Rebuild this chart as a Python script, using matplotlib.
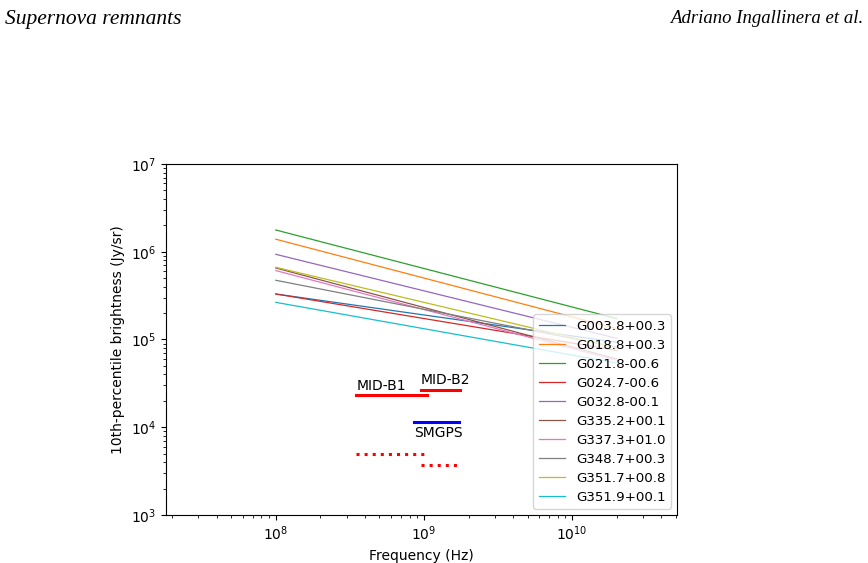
import matplotlib
matplotlib.use("Agg")
import matplotlib.pyplot as plt

# spectra: brightness at the two end frequencies
freqs = [1e8, 2e10]
sources = ["G003.8+00.3", "G018.8+00.3", "G021.8-00.6", "G024.7-00.6", "G032.8-00.1",
           "G335.2+00.1", "G337.3+01.0", "G348.7+00.3", "G351.7+00.8", "G351.9+00.1"]
b_start = [3.30e5, 1.39e6, 1.77e6, 3.30e5, 9.35e5, 6.53e5, 6.10e5, 4.73e5, 6.65e5, 2.65e5]
b_end = [9.3e4, 1.33e5, 1.73e5, 7.5e4, 1.03e5, 6.0e4, 5.8e4, 8.2e4, 8.0e4, 5.4e4]

# survey bands (Hz) and sensitivities (Jy/sr)
band_names = ["MID-B1", "MID-B2", "SMGPS"]
band_lo = [3.5e8, 9.5e8, 8.56e8]
band_hi = [1.05e9, 1.76e9, 1.712e9]
band_level = [2.33e4, 2.68e4, 1.16e4]
band_color = ["red", "red", "blue"]
dotted_lo = [3.5e8, 9.5e8]
dotted_hi = [1.05e9, 1.76e9]
dotted_level = [4.9e3, 3.7e3]

fig = plt.figure(figsize=(8.68, 5.63), dpi=100)
ax = fig.add_axes([0.191, 0.0853, 0.589, 0.6234])

for name, s, e in zip(sources, b_start, b_end):
    ax.plot(freqs, [s, e], lw=0.9, label=name)

for name, lo, hi, lev, c in zip(band_names, band_lo, band_hi, band_level, band_color):
    ax.plot([lo, hi], [lev, lev], color=c, lw=2.2)
    if name == "SMGPS":
        ax.text(lo, lev / 1.12, name, ha="left", va="top", fontsize=10)
    else:
        ax.text(lo, lev * 1.06, name, ha="left", va="bottom", fontsize=10)

for lo, hi, lev in zip(dotted_lo, dotted_hi, dotted_level):
    ax.plot([lo, hi], [lev, lev], color="red", lw=2.2, ls=":")

ax.set_xscale("log")
ax.set_yscale("log")
ax.set_xlim(1.81e7, 5.1e10)
ax.set_ylim(1e3, 1e7)
ax.set_xlabel("Frequency (Hz)")
ax.set_ylabel("10th-percentile brightness (Jy/sr)")
ax.legend(loc="lower right", fontsize=9.6, labelspacing=0.45, borderaxespad=0.45)

fig.text(0.006, 0.982, "Supernova remnants", family="Liberation Serif", style="italic",
         fontsize=15.5, ha="left", va="top")
fig.text(0.994, 0.982, "Adriano Ingallinera et al.", family="Liberation Serif", style="italic",
         fontsize=13.5, ha="right", va="top")

fig.savefig("out.png", dpi=100)
